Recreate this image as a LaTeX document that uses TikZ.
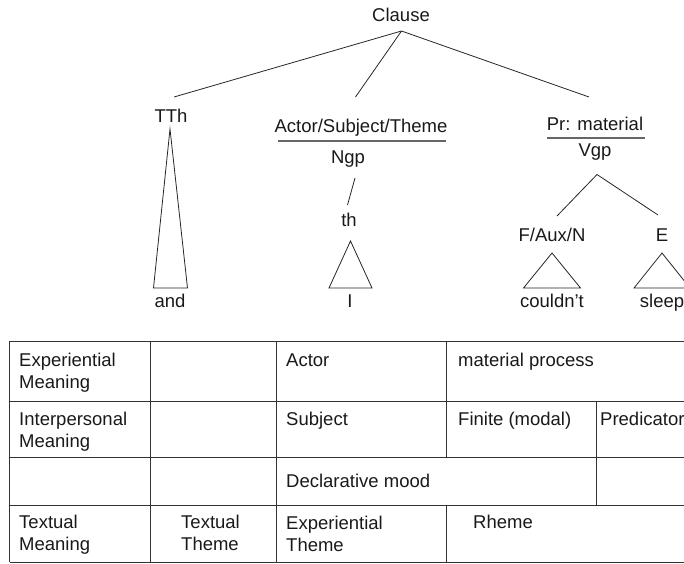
\documentclass[tikz,border=0pt]{standalone}
\usepackage{fontspec}
\setmainfont{Liberation Sans}
\begin{document}
\begin{tikzpicture}[x=1pt,y=-1pt,
  lbl/.style={font=\fontsize{18.5}{22}\selectfont, inner sep=0pt, text=black!90},
  tree/.style={line width=0.8pt, draw=black!85},
  rulebar/.style={line width=1.3pt, draw=black!60},
  grid/.style={line width=0.9pt, draw=black!80},
  cell/.style={lbl, anchor=base west, align=left}]
\clip (0,0) rectangle (684,563);

% ---------- tree labels ----------
\node[lbl, anchor=base] (clause) at (401,21) {Clause};
\node[lbl, anchor=base] (tth) at (171,122) {TTh};
\node[lbl, anchor=base] (actor) at (361,132) {Actor/Subject/Theme};
\node[lbl, anchor=base] (ngp) at (348,163) {Ngp};
\node[lbl, anchor=base] (th) at (349,226) {th};
\node[lbl, anchor=base] (pr) at (595,130) {Pr: material};
\node[lbl, anchor=base] (vgp) at (595,156) {Vgp};
\node[lbl, anchor=base] (faux) at (552,241) {F/Aux/N};
\node[lbl, anchor=base] (e) at (662,241) {E};
\node[lbl, anchor=base] (and) at (170,307) {and};
\node[lbl, anchor=base] (i) at (350,307) {I};
\node[lbl, anchor=base] (couldnt) at (552,307) {couldn’t};
\node[lbl, anchor=base] (sleep) at (662,307) {sleep};

% ---------- connector end points ----------
\coordinate (cA) at (401.5,31);
\coordinate (tthT) at (174,97);
\coordinate (actT) at (355.5,97);
\coordinate (prT) at (589,97);
\coordinate (ngpB) at (355,178);
\coordinate (thT) at (347.5,205);
\coordinate (vA) at (597,174.5);
\coordinate (fT) at (557,216);
\coordinate (eT) at (658,215);
\coordinate (ar1) at (278,141);
\coordinate (ar2) at (446,141);
\coordinate (pr1) at (547,138);
\coordinate (pr2) at (645,138);

\draw[tree] (cA) -- (tthT);
\draw[tree] (cA) -- (actT);
\draw[tree] (cA) -- (prT);
\draw[tree] (ngpB) -- (thT);
\draw[tree] (vA) -- (fT);
\draw[tree] (vA) -- (eT);
\draw[rulebar] (ar1) -- (ar2);
\draw[rulebar] (pr1) -- (pr2);

% ---------- triangles ----------
\coordinate (t1a) at (170,129);
\coordinate (t1l) at (153.5,288);
\coordinate (t1r) at (187.5,288);
\coordinate (t2a) at (350.5,241);
\coordinate (t2l) at (329,288);
\coordinate (t2r) at (372,288);
\coordinate (t3a) at (552,253);
\coordinate (t3l) at (523.5,288);
\coordinate (t3r) at (580.5,288);
\coordinate (t4a) at (662,253);
\coordinate (t4l) at (634,288);
\coordinate (t4r) at (690,288);
\draw[tree] (t1a) -- (t1l) -- (t1r) -- cycle;
\draw[tree] (t2a) -- (t2l) -- (t2r) -- cycle;
\draw[tree] (t3a) -- (t3l) -- (t3r) -- cycle;
\draw[tree] (t4a) -- (t4l) -- (t4r) -- cycle;

% ---------- table grid ----------
\draw[grid] (9.5,341) -- (690,341);
\draw[grid] (9.5,401.5) -- (690,401.5);
\draw[grid] (9.5,457.5) -- (690,457.5);
\draw[grid] (9.5,505.5) -- (690,505.5);
\draw[grid] (9.5,562) -- (690,562);
\draw[grid] (9.5,341) -- (9.5,562);
\draw[grid] (150,341) -- (150,562);
\draw[grid] (276,341) -- (276,562);
\draw[grid] (446,341) -- (446,457.5);
\draw[grid] (446,505.5) -- (446,562);
\draw[grid] (596,401.5) -- (596,505.5);

% ---------- table text (two-line cells are placed by their last baseline) ----------
\node[cell] (c11) at (19,388.5) {Experiential\\Meaning};
\node[cell] (c13) at (286,366) {Actor};
\node[cell] (c14) at (458,366) {material process};
\node[cell] (c21) at (19,447.5) {Interpersonal\\Meaning};
\node[cell] (c23) at (286,425.5) {Subject};
\node[cell] (c24) at (458,425.5) {Finite (modal)};
\node[cell] (c25) at (600,425.5) {Predicator};
\node[cell] (c33) at (286,487) {Declarative mood};
\node[cell] (c41) at (19,550.5) {Textual\\Meaning};
\node[cell] (c42) at (181,550.5) {Textual\\Theme};
\node[cell] (c43) at (286,551) {Experiential\\Theme};
\node[cell] (c44) at (473,528.5) {Rheme};
\end{tikzpicture}
\end{document}
